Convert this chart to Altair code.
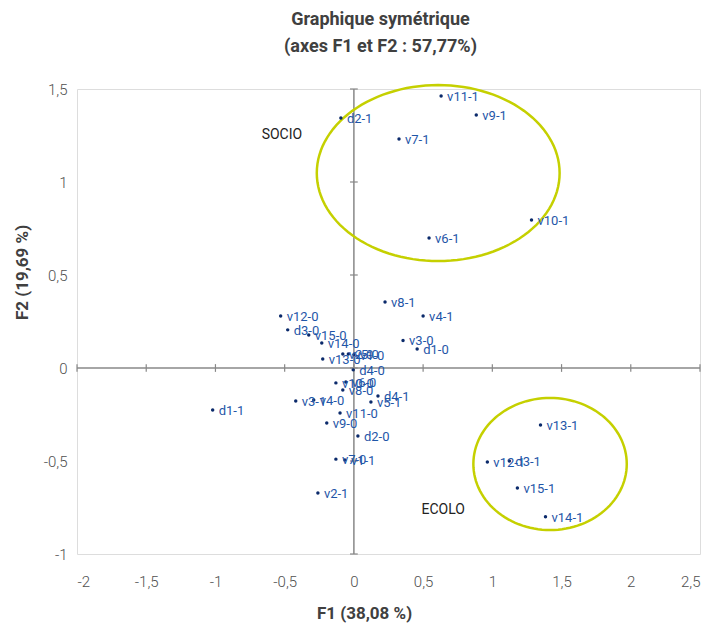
import altair as alt
import pandas as pd
import numpy as np

labels = ["v11-1", "v9-1", "d2-1", "v7-1", "v10-1", "v6-1", "v8-1", "v4-1", "v12-0", "d3-0",
          "v15-0", "v14-0", "v3-0", "d1-0", "v13-0", "v2-0", "v5-0", "v1-0", "d4-0", "v10-0",
          "v6-0", "v8-0", "v3-1", "v4-0", "d4-1", "v5-1", "v11-0", "v9-0", "d2-0", "v7-0",
          "v1-1", "d1-1", "v2-1", "v13-1", "v12-1", "d3-1", "v15-1", "v14-1"]
f1 = [0.63, 0.884, -0.094, 0.326, 1.283, 0.543, 0.225, 0.5, -0.529, -0.478,
      -0.326, -0.232, 0.355, 0.457, -0.225, -0.08, -0.04, 0.0, -0.005, -0.13,
      -0.058, -0.08, -0.42, -0.29, 0.174, 0.123, -0.1, -0.196, 0.029, -0.13,
      -0.065, -1.02, -0.26, 1.348, 0.964, 1.123, 1.181, 1.384]
f2 = [1.462, 1.36, 1.344, 1.231, 0.796, 0.699, 0.355, 0.28, 0.28, 0.205,
      0.177, 0.134, 0.148, 0.102, 0.048, 0.075, 0.075, 0.072, -0.01, -0.08,
      -0.075, -0.118, -0.177, -0.172, -0.151, -0.183, -0.242, -0.296, -0.366, -0.49,
      -0.495, -0.226, -0.672, -0.306, -0.505, -0.50, -0.645, -0.80]

group_names = ["SOCIO", "ECOLO"]
group_x = [-0.52, 0.645]
group_y = [1.253, -0.763]

ell_cx = [0.609, 1.417]
ell_cy = [1.048, -0.516]
ell_rx = [0.877, 0.554]
ell_ry = [0.473, 0.355]

x_ticks = [-2, -1.5, -1, -0.5, 0, 0.5, 1, 1.5, 2, 2.5]
y_ticks = [-1, -0.5, 0, 0.5, 1, 1.5]

df = pd.DataFrame({"label": labels, "F1": f1, "F2": f2})
gdf = pd.DataFrame({"name": group_names, "F1": group_x, "F2": group_y})

rows = []
t = np.linspace(0, 2 * np.pi, 121)
for i in range(len(ell_cx)):
    for k, a in enumerate(t):
        rows.append({"e": i, "o": k, "F1": ell_cx[i] + ell_rx[i] * np.cos(a),
                     "F2": ell_cy[i] + ell_ry[i] * np.sin(a)})
edf = pd.DataFrame(rows)

FONT = "Roboto"

xs = alt.Scale(domain=[-2, 2.5], nice=False, zero=False)
ys = alt.Scale(domain=[-1, 1.5], nice=False, zero=False)

LBL = "replace(toString(datum.value), '.', ',')"

base = alt.Chart(df)

points = base.mark_point(filled=True, size=12, color="#0b2a6b", opacity=1).encode(
    x=alt.X("F1:Q", scale=xs,
            axis=alt.Axis(values=x_ticks, labelExpr=LBL, grid=False, ticks=False,
                          domain=False, title="F1 (38,08 %)", titleFontSize=17,
                          titleFont=FONT, titleFontWeight="bold", titleColor="#404040",
                          labelFont=FONT, labelFontSize=15, labelFontWeight=300,
                          labelColor="#505050", labelPadding=20, titlePadding=16,
                          titleX=287)),
    y=alt.Y("F2:Q", scale=ys,
            axis=alt.Axis(values=y_ticks, labelExpr=LBL, grid=False, ticks=False,
                          domain=False, title="F2 (19,69 %)", titleFontSize=17,
                          titleFont=FONT, titleFontWeight="bold", titleColor="#404040",
                          labelFont=FONT, labelFontSize=15, labelFontWeight=300,
                          labelColor="#505050", labelPadding=10, titlePadding=12,
                          titleY=183)),
)

texts = base.mark_text(align="left", baseline="middle", dx=6, dy=1, fontSize=13,
                       font=FONT, color="#1f56a8").encode(
    x=alt.X("F1:Q", scale=xs), y=alt.Y("F2:Q", scale=ys), text="label:N")

gtext = alt.Chart(gdf).mark_text(align="center", baseline="middle", fontSize=14,
                                 font=FONT, color="#222222").encode(
    x=alt.X("F1:Q", scale=xs), y=alt.Y("F2:Q", scale=ys), text="name:N")

ell = alt.Chart(edf).mark_line(color="#c5d000", strokeWidth=2.5).encode(
    x=alt.X("F1:Q", scale=xs), y=alt.Y("F2:Q", scale=ys), detail="e:N", order="o:Q")

zx = alt.Chart(pd.DataFrame({"v": [0]})).mark_rule(color="#888888", strokeWidth=1.5).encode(
    x=alt.X("v:Q", scale=xs))
zy = alt.Chart(pd.DataFrame({"v": [0]})).mark_rule(color="#888888", strokeWidth=1.5).encode(
    y=alt.Y("v:Q", scale=ys))

xt = alt.Chart(pd.DataFrame({"t": x_ticks, "z": [0] * len(x_ticks)})).mark_point(
    shape="M0,-1L0,1", size=60, filled=False, color="#888888", strokeWidth=1.2, opacity=1).encode(
    x=alt.X("t:Q", scale=xs), y=alt.Y("z:Q", scale=ys))
yt = alt.Chart(pd.DataFrame({"t": y_ticks, "z": [0] * len(y_ticks)})).mark_point(
    shape="M-1,0L1,0", size=60, filled=False, color="#888888", strokeWidth=1.2, opacity=1).encode(
    y=alt.Y("t:Q", scale=ys), x=alt.X("z:Q", scale=xs))

chart = alt.layer(zx, zy, xt, yt, ell, points, texts, gtext).properties(
    width=623, height=465,
    autosize=alt.AutoSizeParams(type="none"),
    padding={"left": 69, "top": 81, "right": 5, "bottom": 72},
    title=alt.Title(["Graphique symétrique", "(axes F1 et F2 : 57,77%)"],
                    font=FONT, fontSize=18, fontWeight="bold", color="#404040",
                    anchor="middle", frame="group", offset=24, lineHeight=27, dx=-8),
).configure_view(stroke="#888888", strokeWidth=1.5).configure(background="white")

chart.save("out.html", embed_options={"renderer": "svg", "actions": False})
